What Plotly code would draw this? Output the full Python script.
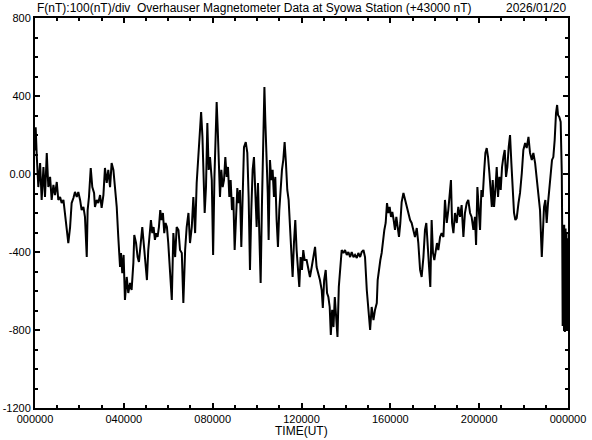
import plotly.graph_objects as go

# Time of day in hours (UT) and total field deviation from 43000 nT
hours = [
    0.00, 0.03, 0.08, 0.15, 0.23, 0.30, 0.38, 0.45, 0.53, 0.60, 0.68, 0.75, 0.83, 0.90, 0.98,
    1.05, 1.13, 1.20, 1.28, 1.35, 1.43, 1.50, 1.58, 1.65, 1.73, 1.80, 1.88, 1.95, 2.03, 2.10,
    2.18, 2.25, 2.33, 2.37, 2.43, 2.51, 2.58, 2.66, 2.70, 2.78, 2.85, 2.93, 3.00, 3.08, 3.15,
    3.23, 3.30, 3.38, 3.45, 3.53, 3.60, 3.68, 3.75, 3.83, 3.87, 3.93, 3.99, 4.05, 4.13, 4.20,
    4.28, 4.35, 4.43, 4.47, 4.55, 4.62, 4.68, 4.77, 4.83, 4.91, 4.98, 5.04, 5.10, 5.16, 5.22,
    5.28, 5.34, 5.40, 5.46, 5.52, 5.58, 5.64, 5.70, 5.76, 5.82, 5.88, 5.94, 6.00,
    6.08, 6.16, 6.23, 6.31, 6.38, 6.46, 6.53, 6.61, 6.68, 6.76, 6.83, 6.91, 6.98, 7.06, 7.13,
    7.21, 7.28, 7.36, 7.43, 7.48, 7.54, 7.60, 7.64, 7.70, 7.76, 7.82, 7.88, 7.96, 8.02, 8.08,
    8.14, 8.18, 8.23, 8.27, 8.33, 8.39, 8.45, 8.51, 8.57, 8.63, 8.69, 8.75, 8.81, 8.87, 8.93,
    8.99, 9.05, 9.11, 9.17, 9.23, 9.29, 9.35, 9.41, 9.49, 9.56, 9.62, 9.68, 9.74, 9.80, 9.86,
    9.92, 9.98, 10.04, 10.10, 10.16, 10.22, 10.28, 10.33, 10.37, 10.43, 10.48, 10.52, 10.58,
    10.64, 10.70, 10.76, 10.82, 10.88, 10.94, 11.00, 11.06, 11.12, 11.18, 11.24, 11.30, 11.36,
    11.42, 11.48, 11.54, 11.60, 11.66, 11.72, 11.78, 11.84, 11.90, 11.96, 12.02, 12.08, 12.14,
    12.23, 12.31, 12.38, 12.46, 12.53, 12.61, 12.68, 12.76, 12.83, 12.91, 12.96, 13.02, 13.09,
    13.15, 13.21, 13.27, 13.32, 13.38, 13.44, 13.50, 13.56, 13.62, 13.68, 13.74, 13.81, 13.89,
    13.96, 14.04, 14.11, 14.19, 14.26, 14.34, 14.41, 14.49, 14.56, 14.64, 14.71, 14.79, 14.86,
    14.94, 15.01, 15.09, 15.16, 15.24, 15.31, 15.39, 15.43, 15.49, 15.55, 15.61, 15.67, 15.73,
    15.79, 15.85, 15.91, 15.97, 16.03, 16.09, 16.15, 16.21, 16.27, 16.33, 16.39, 16.45, 16.51,
    16.59, 16.66, 16.74, 16.81, 16.89, 16.96, 17.04, 17.11, 17.19, 17.26, 17.34, 17.41, 17.49,
    17.56, 17.62, 17.68, 17.74, 17.80, 17.86, 17.92, 17.98, 18.04, 18.10, 18.16, 18.24,
    18.31, 18.39, 18.46, 18.54, 18.61, 18.69, 18.73, 18.78, 18.84, 18.91, 18.99, 19.06, 19.14,
    19.21, 19.29, 19.36, 19.44, 19.51, 19.59, 19.66, 19.74, 19.81, 19.86, 19.92, 19.98, 20.04,
    20.10, 20.16, 20.22, 20.28, 20.34, 20.40, 20.46, 20.52, 20.57, 20.61, 20.67, 20.73, 20.79,
    20.85, 20.91, 20.97, 21.03, 21.09, 21.15, 21.21, 21.27, 21.33, 21.39, 21.45, 21.51, 21.57,
    21.63, 21.69, 21.77, 21.84, 21.92, 21.99, 22.07, 22.14, 22.22, 22.29, 22.37, 22.44, 22.52,
    22.59, 22.67, 22.74, 22.82, 22.86, 22.92, 22.98, 23.04, 23.10, 23.16, 23.22, 23.28, 23.34,
    23.40, 23.46, 23.51, 23.55, 23.61, 23.67, 23.72, 23.74, 23.75, 23.76, 23.77, 23.78, 23.79,
    23.80, 23.81, 23.82, 23.83, 23.84, 23.85, 23.86, 23.87, 23.88, 23.89, 23.90, 23.91, 23.92,
    23.93, 23.94, 23.95, 23.96, 23.97, 23.98, 23.99, 24.00,
]

field_nT = [
    120, 240, 90, -67, 56, -133, 36, -118, 108, -67, -15, -133, -56, -108, -41,
    -133, -118, -149, -133, -200, -272, -354, -272, -149, -123, -92, -118, -92, -133, -185,
    -169, -220, -426, -185, -118, 31, -67, -97, -169, -133, -149, -108, -174, -108, 31,
    -46, 21, -67, 56, 21, -67, -169, -323, -477, -405, -508, -415, -646, -528, -610,
    -559, -595, -456, -313, -354, -426, -451, -338, -272, -374, -456, -544, -390, -287, -236,
    -303, -272, -338, -303, -323, -272, -185, -236, -200, -303, -251, -272, -354,
    -528, -646, -303, -426, -272, -287, -390, -405, -662, -390, -272, -200, -354, -272, -118,
    -303, -46, 87, 241, 318, 190, -15, -200, -67, 262, 21, 87, -31, -415, -15,
    262, 369, 226, 87, -118, 21, -67, -31, 87, -15, 36, -118, -31, -185, -118,
    -390, -236, -72, -149, -82, -374, -82, 138, 164, 108, -118, -492, -185, 21, 87,
    -133, -272, -46, -323, -559, -149, 190, 446, 277, 87, -97, -338, 72,
    -31, 21, -118, -15, -236, -374, -185, -46, 21, 72, 164, 56, -82,
    -133, -272, -374, -528, -354, -236, -390, -492, -579, -426, -492, -390, -441,
    -441, -492, -528, -477, -426, -374, -477, -508, -544, -595, -687, -544, -492,
    -610, -631, -682, -826, -697, -785, -631, -733, -836, -579, -508, -390, -405,
    -390, -415, -400, -426, -400, -426, -415, -431, -405, -426, -400, -390, -426,
    -595, -697, -800, -682, -749, -697, -662, -544, -477, -441, -405, -338, -287,
    -251, -149, -200, -169, -220, -195, -236, -287, -220, -272, -323, -251, -144,
    -97, -133, -169, -200, -236, -251, -287, -323, -277, -354, -492, -528, -426,
    -287, -251, -374, -492, -579, -236, -405, -441, -390, -354, -390, -323,
    -303, -323, -133, -251, -185, -82, -31, -251, -303, -200, -251, -169, -220,
    -159, -323, -200, -149, -133, -200, -220, -287, -220, -364, -67, -185, -287,
    -82, -118, 5, 108, 133, 87, 5, -82, -169, -31, -169, -82, 36,
    -118, -15, -82, 36, 87, 123, -15, 36, 138, 200, 56, -82, -200,
    -236, -226, -149, -97, 5, 123, 159, 133, 190, 108, 72, 108, 56,
    -15, -82, -185, -426, -287, -169, -133, -251, -149, -67, 21, 72, 87,
    174, 313, 354, 303, 292, 267, 5, -300, -426, -780, -290, -713, -260,
    -760, -320, -800, -260, -749, -300, -810, -420, -733, -280, -790, -350, -805,
    -300, -760, -456, -800, -330, -790, -400, -733,
]

x_tick_vals = [0, 4, 8, 12, 16, 20, 24]
x_tick_text = ["000000", "040000", "080000", "120000", "160000", "200000", "000000"]
x_minor_vals = list(range(0, 25))
y_tick_vals = [-1200, -800, -400, 0, 400, 800]
y_tick_text = ["-1200", "-800", "-400", "0.00", "400", "800"]
y_minor_vals = list(range(-1200, 801, 100))

title_left = "F(nT):100(nT)/div  Overhauser Magnetometer Data at Syowa Station (+43000 nT)"
title_right = "2026/01/20"
x_title = "TIME(UT)"

FONT = "Liberation Sans, Arial, sans-serif"

fig = go.Figure()
fig.add_trace(go.Scatter(
    x=hours, y=field_nT, mode="lines",
    line=dict(color="black", width=2),
    showlegend=False, hoverinfo="skip",
))

axis_common = dict(
    showgrid=False, zeroline=False, automargin=False,
    showline=True, linecolor="black", linewidth=2, mirror="allticks",
    ticks="inside", ticklen=5, tickwidth=2, tickcolor="black",
    tickfont=dict(family=FONT, size=11, color="black"),
)

fig.update_xaxes(
    range=[0, 24], tickmode="array", tickvals=x_tick_vals, ticktext=x_tick_text,
    minor=dict(tickmode="array", tickvals=x_minor_vals, ticks="inside", ticklen=3,
               tickwidth=2, tickcolor="black", showgrid=False),
    ticklabelstandoff=0,
    **axis_common,
)
fig.update_yaxes(
    range=[-1200, 800], tickmode="array", tickvals=y_tick_vals, ticktext=y_tick_text,
    minor=dict(tickmode="array", tickvals=y_minor_vals, ticks="inside", ticklen=3,
               tickwidth=2, tickcolor="black", showgrid=False),
    ticklabelstandoff=0,
    **axis_common,
)

fig.update_layout(
    width=592, height=440,
    margin=dict(l=35, r=24, t=18, b=32),
    paper_bgcolor="white", plot_bgcolor="white",
    font=dict(family=FONT, color="black"),
    annotations=[
        dict(text=title_left, x=0, xref="paper", y=1.0256, yref="paper",
             xanchor="left", yanchor="middle", showarrow=False,
             font=dict(family=FONT, size=12, color="black")),
        dict(text=title_right, x=1, xref="paper", y=1.0256, yref="paper",
             xanchor="right", yanchor="middle", showarrow=False,
             font=dict(family=FONT, size=12, color="black")),
        dict(text=x_title, x=0.5, xref="paper", y=-0.06, yref="paper",
             xanchor="center", yanchor="middle", showarrow=False,
             font=dict(family=FONT, size=12, color="black")),
    ],
)

fig.write_html(
    "out.html",
    config={"displayModeBar": False, "staticPlot": True},
    post_script="document.body.style.margin='0';document.body.style.overflow='hidden';",
)
